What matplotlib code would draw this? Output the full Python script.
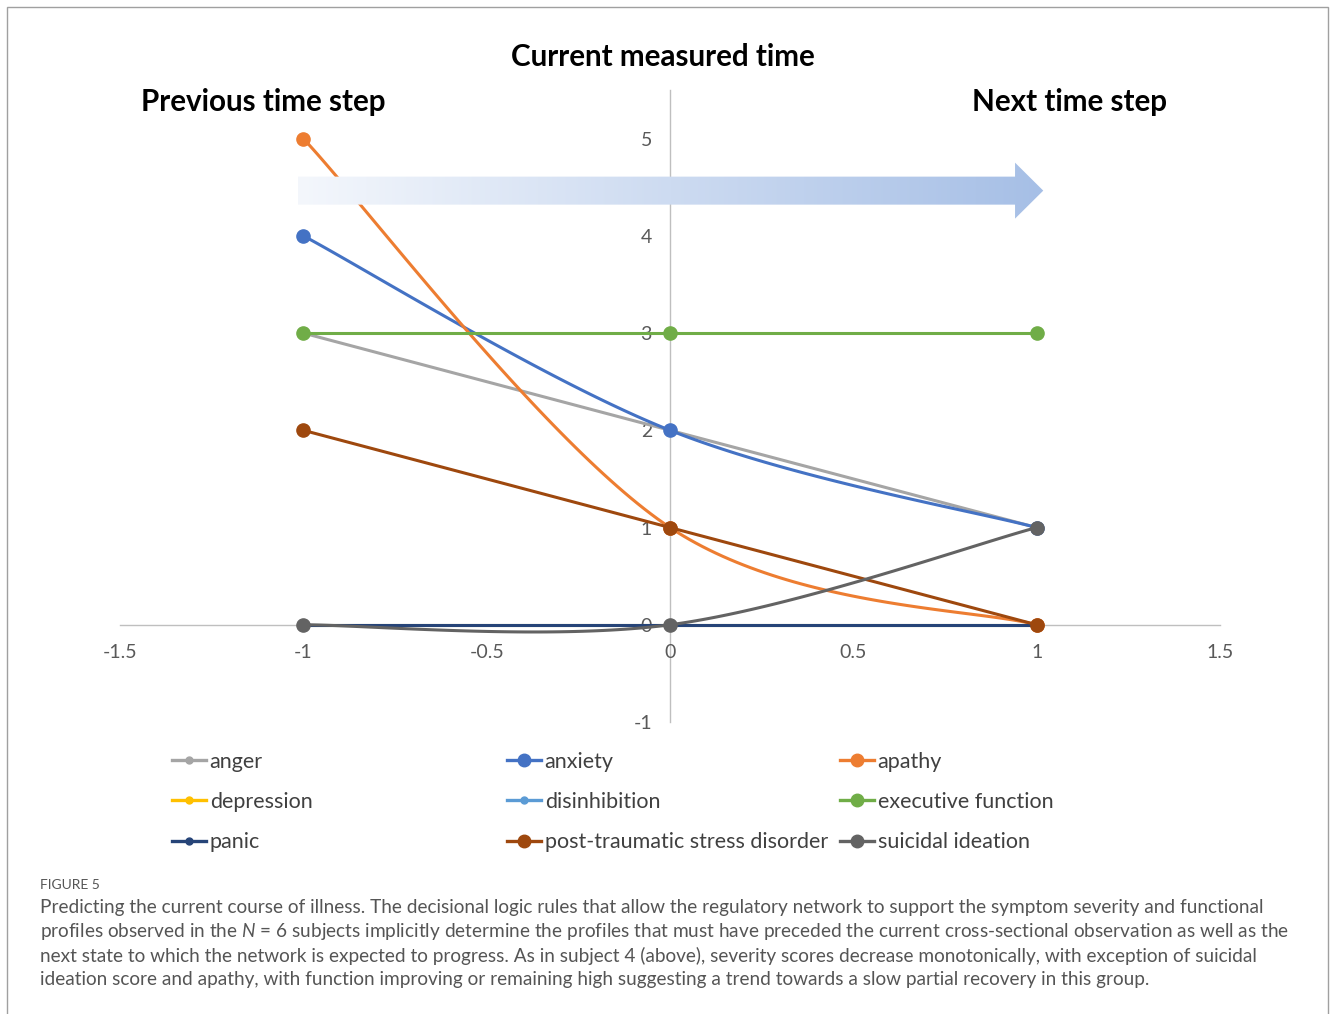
import numpy as np
import matplotlib
matplotlib.use('Agg')
import matplotlib.pyplot as plt
from matplotlib.patches import Polygon, Rectangle
from matplotlib.lines import Line2D
from matplotlib.colors import LinearSegmentedColormap

plt.rcParams['font.family'] = ['Lato', 'DejaVu Sans']
plt.rcParams['mathtext.fontset'] = 'custom'
plt.rcParams['mathtext.rm'] = 'Lato'
plt.rcParams['mathtext.it'] = 'Lato:italic'

# 数据：三个时间点（上一步、当前、下一步）
time_steps = [-1, 0, 1]
anger = [3, 2, 1]
anxiety = [4, 2, 1]
apathy = [5, 1, 0]
depression = [0, 0, 0]
disinhibition = [0, 0, 0]
executive_function = [3, 3, 3]
panic = [0, 0, 0]
ptsd = [2, 1, 0]
suicidal_ideation = [0, 0, 1]

series_names = ['anger', 'anxiety', 'apathy', 'depression', 'disinhibition',
                'executive function', 'panic', 'post-traumatic stress disorder',
                'suicidal ideation']
series_values = [anger, anxiety, apathy, depression, disinhibition,
                 executive_function, panic, ptsd, suicidal_ideation]
series_colors = ['#A5A5A5', '#4472C4', '#ED7D31', '#FFC000', '#5B9BD5',
                 '#70AD47', '#264478', '#9E480E', '#636363']
big_marker = [False, True, True, False, False, True, False, True, True]

x_ticks = [-1.5, -1, -0.5, 0, 0.5, 1, 1.5]
x_tick_labels = ['-1.5', '-1', '-0.5', '0', '0.5', '1', '1.5']
y_ticks = [-1, 0, 1, 2, 3, 4, 5]
y_tick_labels = ['-1', '0', '1', '2', '3', '4', '5']


def excel_smooth(xs, ys, n=60):
    # Excel 平滑线：分段三次贝塞尔，控制点取相邻点连线的 1/6
    pts = np.column_stack([xs, ys]).astype(float)
    out = []
    for i in range(len(pts) - 1):
        p_prev = pts[i - 1] if i > 0 else pts[i]
        p_next = pts[i + 2] if i + 2 < len(pts) else pts[i + 1]
        p0, p3 = pts[i], pts[i + 1]
        c1 = p0 + (p3 - p_prev) / 6
        c2 = p3 - (p_next - p0) / 6
        t = np.linspace(0, 1, n)[:, None]
        seg = ((1 - t) ** 3) * p0 + 3 * ((1 - t) ** 2) * t * c1 + 3 * (1 - t) * t ** 2 * c2 + t ** 3 * p3
        out.append(seg if i == 0 else seg[1:])
    out = np.vstack(out)
    return out[:, 0], out[:, 1]


fig = plt.figure(figsize=(13.3, 10.14), dpi=100)
ax = fig.add_axes([120 / 1330, 1 - 722 / 1014, 1100 / 1330, 632 / 1014])

for name, vals, col, big in zip(series_names, series_values, series_colors, big_marker):
    sx, sy = excel_smooth(time_steps, vals)
    ax.plot(sx, sy, color=col, lw=2.2, solid_capstyle='round', zorder=3)
    ax.plot(time_steps, vals, ls='none', marker='o', color=col,
            markersize=9.5 if big else 4.5, zorder=3)

# 坐标轴交于原点
for s in ['top', 'right']:
    ax.spines[s].set_visible(False)
ax.spines['left'].set_position(('data', 0))
ax.spines['bottom'].set_position(('data', 0))
for s in ['left', 'bottom']:
    ax.spines[s].set_color('#BFBFBF')
    ax.spines[s].set_linewidth(1.0)
    ax.spines[s].set_zorder(1)
ax.set_xticks(x_ticks)
ax.set_xticklabels(x_tick_labels)
ax.set_yticks(y_ticks)
ax.set_yticklabels(y_tick_labels)
ax.tick_params(axis='both', length=0, labelsize=14, labelcolor='#595959')
ax.tick_params(axis='x', pad=14)
ax.tick_params(axis='y', pad=13)
ax.patch.set_alpha(0)

# 渐变箭头
ax_x0, ax_x1, ax_x2 = -1.015, 0.941, 1.018
yc, hb, hh = 4.465, 0.144, 0.288
arrow_pts = [(ax_x0, yc - hb), (ax_x1, yc - hb), (ax_x1, yc - hh), (ax_x2, yc),
             (ax_x1, yc + hh), (ax_x1, yc + hb), (ax_x0, yc + hb)]
arrow = Polygon(arrow_pts, closed=True, facecolor='none', edgecolor='none')
ax.add_patch(arrow)
grad = np.linspace(0, 1, 256)[None, :]
cmap = LinearSegmentedColormap.from_list('arr', ['#F4F7FC', '#A6BFE6'])
im = ax.imshow(grad, cmap=cmap, extent=[ax_x0, ax_x2, yc - hh, yc + hh],
               aspect='auto', zorder=10, interpolation='bicubic')
im.set_clip_path(arrow)
ax.set_xlim(-1.5, 1.5)
ax.set_ylim(-1, 5.5)

# 标题文字
fig.text(663 / 1330, 1 - 57 / 1014, 'Current measured time', ha='center', va='center',
         fontsize=21.3, fontweight='bold', color='black')
fig.text(263 / 1330, 1 - 102 / 1014, 'Previous time step', ha='center', va='center',
         fontsize=21.3, fontweight='bold', color='black')
fig.text(1070 / 1330, 1 - 102 / 1014, 'Next time step', ha='center', va='center',
         fontsize=21.3, fontweight='bold', color='black')

# 图例：按行排列，三列
handles = []
for name, col, big in zip(series_names, series_colors, big_marker):
    handles.append(Line2D([0], [0], color=col, lw=2.4, marker='o',
                          markersize=9 if big else 5, label=name))
col_x = [172 / 1330, 507 / 1330, 840 / 1330]
for c in range(3):
    hs = [handles[r * 3 + c] for r in range(3)]
    fig.legend(handles=hs, loc='upper left', bbox_to_anchor=(col_x[c], 1 - 752 / 1014),
               frameon=False, borderpad=0, borderaxespad=0, handlelength=1.6,
               handletextpad=0.15, labelspacing=0.93, fontsize=15.5,
               labelcolor='#404040')

# 图注
fig.text(40 / 1330, 1 - 885 / 1014, 'FIGURE 5', ha='left', va='center',
         fontsize=10, color='#555555')
caption_lines = [
    'Predicting the current course of illness. The decisional logic rules that allow the regulatory network to support the symptom severity and functional',
    'profiles observed in the $\\it{N}$ = 6 subjects implicitly determine the profiles that must have preceded the current cross-sectional observation as well as the',
    'next state to which the network is expected to progress. As in subject 4 (above), severity scores decrease monotonically, with exception of suicidal',
    'ideation score and apathy, with function improving or remaining high suggesting a trend towards a slow partial recovery in this group.',
]
for i, line in enumerate(caption_lines):
    fig.text(40 / 1330, 1 - (908 + 24 * i) / 1014, line, ha='left', va='center',
             fontsize=13.7, color='#555555')

# 外框
fig.add_artist(Rectangle((7 / 1330, -0.05), 1321 / 1330, 1.05 - 7 / 1014,
                         transform=fig.transFigure, fill=False,
                         edgecolor='#A0A0A0', lw=1.0))

fig.savefig('out.png', dpi=100)
